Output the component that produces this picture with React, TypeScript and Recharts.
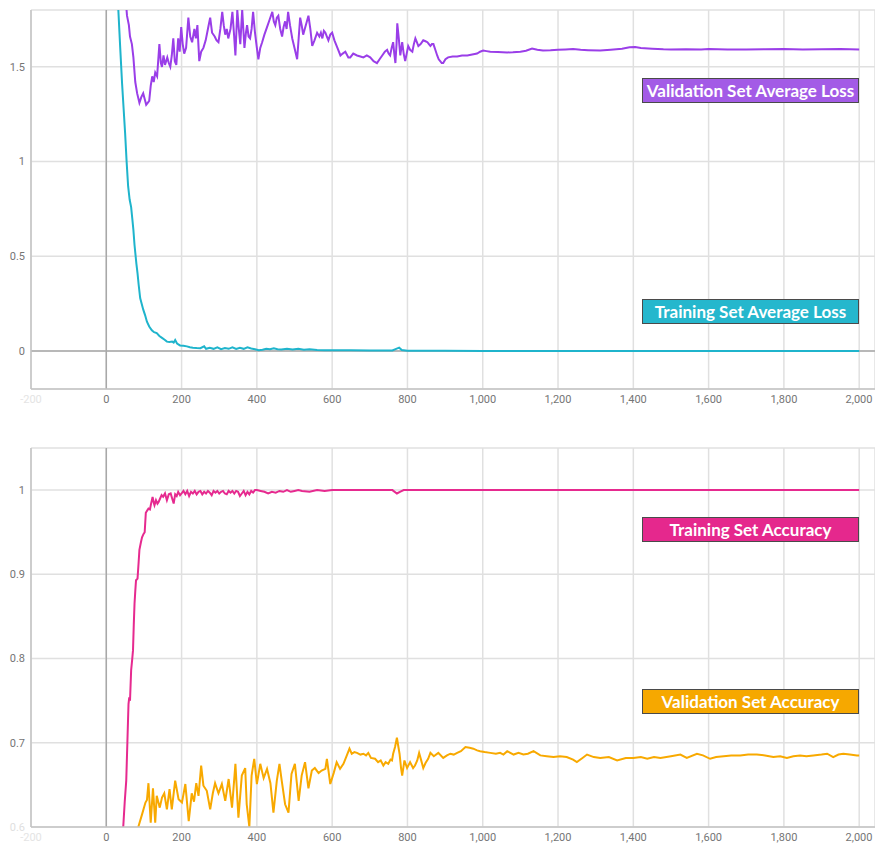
import React from 'react';
import { LineChart, Line, XAxis, YAxis, CartesianGrid, ReferenceLine } from 'recharts';

// steps and values, one pair of arrays per series
const VAL_LOSS_STEPS = [50, 55, 60, 63, 68, 72, 77, 82, 88, 93, 98, 102, 106, 110, 114, 118, 122, 126, 130, 135, 141, 145, 148, 152, 156, 162, 166, 170, 174, 178, 182, 186, 191, 195, 199, 203, 207, 212, 218, 223, 228, 234, 238, 242, 247, 252, 258, 264, 271, 276, 281, 288, 293, 298, 303, 308, 312, 316, 320, 324, 330, 335, 339, 343, 348, 352, 356, 361, 364, 367, 371, 374, 378, 382, 386, 390, 395, 400, 404, 409, 414, 420, 427, 434, 441, 445, 449, 453, 457, 462, 467, 471, 475, 479, 483, 488, 494, 500, 507, 511, 515, 519, 523, 530, 537, 542, 547, 553, 560, 566, 570, 574, 578, 582, 586, 590, 595, 600, 606, 614, 622, 628, 635, 643, 648, 656, 666, 675, 683, 692, 701, 710, 719, 726, 733, 740, 746, 750, 754, 758, 762, 765, 768, 771, 773, 777, 781, 786, 790, 794, 798, 802, 807, 813, 817, 821, 825, 829, 835, 842, 848, 853, 857, 861, 865, 869, 874, 879, 883, 887, 891, 895, 901, 908, 920, 932, 945, 959, 972, 985, 993, 1001, 1010, 1020, 1040, 1065, 1080, 1100, 1115, 1131, 1145, 1160, 1180, 1200, 1220, 1240, 1260, 1280, 1312, 1340, 1370, 1390, 1405, 1420, 1450, 1480, 1500, 1540, 1580, 1600, 1650, 1700, 1750, 1800, 1850, 1900, 1950, 2000];
const VAL_LOSS = [1.9, 1.77, 1.72, 1.66, 1.62, 1.55, 1.42, 1.36, 1.31, 1.34, 1.36, 1.33, 1.3, 1.31, 1.32, 1.4, 1.45, 1.42, 1.47, 1.45, 1.62, 1.52, 1.5, 1.56, 1.51, 1.55, 1.52, 1.5, 1.56, 1.65, 1.53, 1.51, 1.65, 1.58, 1.71, 1.62, 1.57, 1.6, 1.76, 1.66, 1.63, 1.7, 1.65, 1.72, 1.53, 1.58, 1.6, 1.64, 1.71, 1.76, 1.68, 1.66, 1.64, 1.63, 1.7, 1.79, 1.72, 1.67, 1.7, 1.65, 1.7, 1.79, 1.68, 1.56, 1.8, 1.7, 1.62, 1.8, 1.7, 1.6, 1.68, 1.72, 1.66, 1.65, 1.7, 1.79, 1.68, 1.6, 1.54, 1.6, 1.63, 1.67, 1.71, 1.75, 1.79, 1.74, 1.72, 1.76, 1.77, 1.7, 1.66, 1.71, 1.74, 1.7, 1.79, 1.72, 1.65, 1.6, 1.54, 1.65, 1.76, 1.72, 1.67, 1.72, 1.77, 1.7, 1.61, 1.64, 1.68, 1.66, 1.68, 1.65, 1.69, 1.68, 1.66, 1.64, 1.67, 1.68, 1.64, 1.6, 1.56, 1.57, 1.58, 1.55, 1.55, 1.57, 1.56, 1.555, 1.55, 1.56, 1.55, 1.53, 1.52, 1.54, 1.56, 1.58, 1.59, 1.57, 1.56, 1.6, 1.63, 1.57, 1.52, 1.62, 1.73, 1.65, 1.56, 1.63, 1.57, 1.53, 1.57, 1.61, 1.59, 1.58, 1.62, 1.65, 1.63, 1.61, 1.62, 1.64, 1.635, 1.63, 1.62, 1.61, 1.62, 1.62, 1.59, 1.56, 1.54, 1.53, 1.52, 1.52, 1.54, 1.55, 1.555, 1.555, 1.56, 1.56, 1.565, 1.57, 1.58, 1.586, 1.583, 1.58, 1.578, 1.576, 1.577, 1.58, 1.585, 1.597, 1.59, 1.586, 1.587, 1.59, 1.592, 1.594, 1.59, 1.588, 1.586, 1.59, 1.595, 1.603, 1.605, 1.6, 1.596, 1.593, 1.592, 1.593, 1.592, 1.594, 1.592, 1.591, 1.593, 1.594, 1.592, 1.593, 1.594, 1.592];

const TRAIN_LOSS_STEPS = [28, 32, 37, 42, 46, 50, 54, 58, 62, 66, 69, 72, 75, 77, 80, 83, 86, 90, 94, 98, 103, 108, 114, 121, 127, 134, 141, 148, 155, 161, 168, 175, 179, 183, 188, 196, 205, 214, 222, 230, 240, 250, 260, 265, 275, 285, 295, 305, 315, 325, 335, 345, 355, 365, 375, 385, 395, 405, 415, 425, 435, 445, 455, 465, 480, 495, 510, 525, 540, 560, 580, 600, 650, 700, 760, 770, 778, 785, 800, 900, 1000, 1200, 1500, 1800, 2000];
const TRAIN_LOSS = [1.95, 1.8, 1.6, 1.41, 1.28, 1.15, 1.0, 0.87, 0.8, 0.76, 0.7, 0.64, 0.56, 0.52, 0.46, 0.41, 0.35, 0.28, 0.25, 0.22, 0.19, 0.155, 0.13, 0.11, 0.1, 0.095, 0.08, 0.07, 0.06, 0.05, 0.048, 0.05, 0.045, 0.058, 0.04, 0.03, 0.028, 0.025, 0.02, 0.018, 0.016, 0.015, 0.025, 0.012, 0.018, 0.012, 0.02, 0.01, 0.016, 0.012, 0.02, 0.011, 0.018, 0.012, 0.02, 0.014, 0.01, 0.005, 0.007, 0.012, 0.01, 0.015, 0.01, 0.008, 0.012, 0.008, 0.012, 0.007, 0.01, 0.006, 0.005, 0.004, 0.004, 0.003, 0.003, 0.012, 0.018, 0.006, 0.002, 0.002, 0.001, 0.001, 0.001, 0.001, 0.001];

const TRAIN_ACC_STEPS = [40, 45, 49, 53, 56, 59, 61, 63, 66, 69, 71, 73, 75, 77, 79, 83, 86, 88, 92, 95, 99, 102, 105, 109, 112, 116, 119, 123, 126, 128, 132, 136, 139, 143, 147, 151, 156, 161, 166, 171, 175, 179, 183, 187, 191, 196, 200, 205, 210, 215, 220, 225, 230, 235, 240, 245, 250, 255, 260, 265, 270, 275, 280, 285, 290, 295, 300, 305, 310, 315, 320, 325, 330, 335, 340, 345, 350, 355, 360, 365, 370, 375, 380, 385, 390, 395, 400, 410, 420, 430, 440, 450, 460, 470, 480, 490, 500, 510, 520, 540, 560, 580, 600, 650, 700, 760, 772, 780, 790, 900, 1200, 1600, 2000];
const TRAIN_ACC = [0.57, 0.6, 0.63, 0.655, 0.7, 0.746, 0.754, 0.75, 0.786, 0.8, 0.81, 0.84, 0.865, 0.88, 0.893, 0.895, 0.915, 0.929, 0.938, 0.944, 0.948, 0.95, 0.973, 0.976, 0.978, 0.977, 0.984, 0.992, 0.985, 0.982, 0.988, 0.984, 0.986, 0.99, 0.994, 0.992, 0.996, 0.988, 0.995, 0.996, 0.99, 0.984, 0.995, 0.993, 0.998, 0.994, 0.996, 0.999, 0.995, 0.999, 0.993, 0.998, 0.996, 0.999, 0.995, 0.998, 0.999, 0.995, 0.998, 0.996, 0.999, 0.997, 0.994, 0.999, 0.997, 0.999, 0.996, 0.998, 0.999, 0.996, 0.995, 0.999, 0.997, 0.999, 0.996, 0.999, 0.998, 0.993, 0.996, 0.999, 0.994, 0.998, 0.995, 0.999, 0.997, 1.0, 1.0, 0.999, 0.998, 0.996, 0.998, 0.997, 0.999, 0.998, 1.0, 0.998, 0.999, 1.0, 0.999, 0.998, 1.0, 0.999, 1.0, 1.0, 1.0, 1.0, 0.996, 0.998, 1.0, 1.0, 1.0, 1.0, 1.0];

const VAL_ACC_STEPS = [85, 95, 104, 108, 112, 118, 124, 130, 134, 142, 148, 154, 161, 168, 174, 183, 192, 201, 210, 219, 227, 233, 239, 245, 252, 258, 267, 276, 283, 289, 298, 307, 316, 325, 334, 343, 351, 360, 369, 373, 380, 386, 393, 400, 409, 418, 427, 436, 444, 453, 460, 466, 475, 484, 492, 501, 511, 519, 528, 537, 546, 554, 564, 572, 582, 586, 595, 604, 612, 621, 630, 639, 646, 652, 659, 666, 675, 683, 690, 696, 703, 714, 722, 729, 736, 742, 749, 755, 759, 762, 767, 772, 776, 779, 783, 786, 792, 799, 807, 815, 820, 826, 831, 836, 842, 848, 855, 861, 870, 882, 895, 905, 914, 923, 932, 942, 954, 965, 975, 985, 993, 1005, 1020, 1035, 1046, 1055, 1065, 1082, 1095, 1108, 1120, 1135, 1153, 1170, 1188, 1205, 1223, 1240, 1250, 1265, 1277, 1295, 1312, 1335, 1357, 1380, 1400, 1420, 1437, 1455, 1472, 1500, 1525, 1542, 1569, 1585, 1604, 1620, 1640, 1660, 1684, 1705, 1728, 1750, 1772, 1790, 1808, 1825, 1843, 1860, 1878, 1900, 1915, 1931, 1945, 1958, 1975, 1994, 2000];
const VAL_ACC = [0.6, 0.615, 0.629, 0.632, 0.652, 0.605, 0.646, 0.605, 0.637, 0.623, 0.635, 0.64, 0.621, 0.645, 0.621, 0.655, 0.633, 0.629, 0.651, 0.607, 0.64, 0.63, 0.652, 0.637, 0.673, 0.649, 0.643, 0.621, 0.64, 0.652, 0.64, 0.651, 0.631, 0.657, 0.623, 0.675, 0.611, 0.661, 0.67, 0.627, 0.6, 0.661, 0.681, 0.651, 0.675, 0.658, 0.669, 0.652, 0.617, 0.655, 0.675, 0.655, 0.627, 0.617, 0.663, 0.675, 0.631, 0.661, 0.677, 0.646, 0.667, 0.67, 0.664, 0.667, 0.669, 0.681, 0.651, 0.664, 0.677, 0.669, 0.675, 0.685, 0.693, 0.687, 0.689, 0.688, 0.686, 0.687, 0.685, 0.688, 0.682, 0.681, 0.677, 0.679, 0.673, 0.677, 0.675, 0.68, 0.679, 0.687, 0.695, 0.706, 0.695, 0.687, 0.67, 0.661, 0.679, 0.67, 0.677, 0.67, 0.673, 0.679, 0.688, 0.68, 0.67, 0.676, 0.681, 0.688, 0.684, 0.688, 0.682, 0.685, 0.687, 0.686, 0.688, 0.69, 0.695, 0.694, 0.693, 0.691, 0.69, 0.689, 0.688, 0.687, 0.688, 0.686, 0.69, 0.686, 0.688, 0.686, 0.687, 0.69, 0.685, 0.684, 0.683, 0.684, 0.683, 0.68, 0.677, 0.682, 0.686, 0.683, 0.682, 0.683, 0.679, 0.682, 0.682, 0.683, 0.681, 0.683, 0.682, 0.684, 0.686, 0.682, 0.687, 0.685, 0.681, 0.683, 0.684, 0.685, 0.685, 0.686, 0.686, 0.685, 0.683, 0.684, 0.682, 0.684, 0.685, 0.684, 0.685, 0.686, 0.687, 0.683, 0.686, 0.687, 0.686, 0.685, 0.685];

const X_TICKS = [-200, 0, 200, 400, 600, 800, 1000, 1200, 1400, 1600, 1800, 2000];
const LOSS_TICKS = [0, 0.5, 1, 1.5];
const ACC_TICKS = [0.6, 0.7, 0.8, 0.9, 1];

const toData = (steps: number[], vals: number[]) => steps.map((s, i) => ({ step: s, v: vals[i] }));

const TICK_FONT = 'Roboto, sans-serif';

const XTick = ({ x, y, payload }: any) => (
  <text x={x} y={y} dy="0.71em" textAnchor="middle" fontSize={11} fontFamily={TICK_FONT}
    fill={payload.value === -200 ? '#e4e4e4' : '#757575'}>
    {payload.value.toLocaleString('en-US')}
  </text>
);

const makeYTick = (faint: number | null) => ({ x, y, payload }: any) => (
  <text x={x} y={y} dy="0.35em" textAnchor="end" fontSize={11} fontFamily={TICK_FONT}
    fill={payload.value === faint ? '#e0e0e0' : '#757575'}>
    {payload.value}
  </text>
);

const Tag = ({ top, color, children }: { top: number; color: string; children: React.ReactNode }) => (
  <div style={{
    position: 'absolute', left: 642, top, width: 217, height: 25, boxSizing: 'border-box',
    background: color, border: '1px solid #4a4a4a', color: '#fff',
    fontFamily: 'Lato, sans-serif', fontWeight: 700, fontSize: 17,
    display: 'flex', alignItems: 'center', justifyContent: 'center', whiteSpace: 'nowrap'
  }}>
    {children}
  </div>
);

const GRID = '#e0e0e0';
const AXIS = '#c4c4c4';
const ZERO = '#a8a8a8';

export default function App() {
  return (
    <div style={{ position: 'absolute', left: 0, top: 0, width: 875, height: 846, background: '#fff' }}>
      {/* loss chart */}
      <div style={{ position: 'absolute', left: 0, top: 0 }}>
        <LineChart width={875} height={420} margin={{ top: 10, right: 0, bottom: 0, left: 0 }}>
          <CartesianGrid stroke={GRID} strokeWidth={1.5} />
          <XAxis type="number" dataKey="step" domain={[-200, 2042]} ticks={X_TICKS} allowDataOverflow
            height={31} tickLine={false} tickSize={0} tickMargin={6} stroke={AXIS} strokeWidth={1.5} tick={<XTick />} />
          <YAxis type="number" domain={[-0.2, 1.8]} ticks={LOSS_TICKS} allowDataOverflow width={31}
            tickLine={false} tickSize={0} tickMargin={6} stroke={AXIS} strokeWidth={1.5} tick={makeYTick(null)} />
          <ReferenceLine x={0} stroke={ZERO} strokeWidth={1.5} />
          <ReferenceLine y={0} stroke={ZERO} strokeWidth={1.5} />
          <Line data={toData(TRAIN_LOSS_STEPS, TRAIN_LOSS)} dataKey="v" stroke="#1fb4cc" strokeWidth={2}
            dot={false} isAnimationActive={false} />
          <Line data={toData(VAL_LOSS_STEPS, VAL_LOSS)} dataKey="v" stroke="#9a3ee8" strokeWidth={2}
            dot={false} isAnimationActive={false} />
        </LineChart>
      </div>

      {/* accuracy chart */}
      <div style={{ position: 'absolute', left: 0, top: 420 }}>
        <LineChart width={875} height={426} margin={{ top: 28, right: 0, bottom: 0, left: 0 }}>
          <CartesianGrid stroke={GRID} strokeWidth={1.5} />
          <XAxis type="number" dataKey="step" domain={[-200, 2042]} ticks={X_TICKS} allowDataOverflow
            height={19} tickLine={false} tickSize={0} tickMargin={6} stroke={AXIS} strokeWidth={1.5} tick={<XTick />} />
          <YAxis type="number" domain={[0.6, 1.05]} ticks={ACC_TICKS} allowDataOverflow width={31}
            tickLine={false} tickSize={0} tickMargin={6} stroke={AXIS} strokeWidth={1.5} tick={makeYTick(0.6)} />
          <ReferenceLine x={0} stroke={ZERO} strokeWidth={1.5} />
          <Line data={toData(TRAIN_ACC_STEPS, TRAIN_ACC)} dataKey="v" stroke="#e62a8f" strokeWidth={2}
            dot={false} isAnimationActive={false} />
          <Line data={toData(VAL_ACC_STEPS, VAL_ACC)} dataKey="v" stroke="#f8a900" strokeWidth={2}
            dot={false} isAnimationActive={false} />
        </LineChart>
      </div>

      <Tag top={78} color="#a35be6">Validation Set Average Loss</Tag>
      <Tag top={299} color="#25b7cd">Training Set Average Loss</Tag>
      <Tag top={517} color="#e5288d">Training Set Accuracy</Tag>
      <Tag top={689} color="#f6a800">Validation Set Accuracy</Tag>
    </div>
  );
}
